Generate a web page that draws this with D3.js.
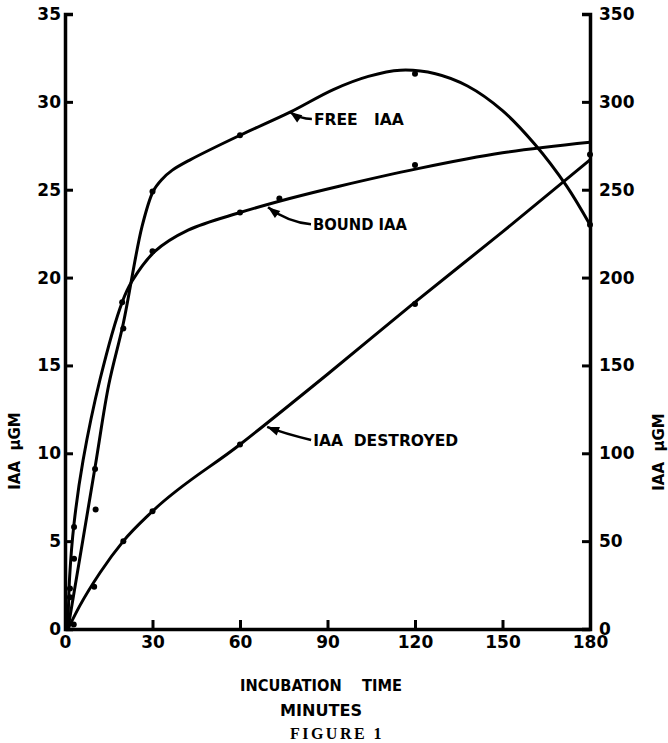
<!DOCTYPE html>
<html>
<head>
<meta charset="utf-8">
<script src="https://cdn.jsdelivr.net/npm/d3@7"></script>
<style>
  body { margin: 0; background: #fff; }
  text { font-family: "DejaVu Sans", sans-serif; font-weight: bold; fill: #000; }
  .axis path, .axis line { stroke: #000; }
  .axis text { font-size: 17px; font-family: "DejaVu Sans", sans-serif; font-weight: bold; }
</style>
</head>
<body>
<div id="chart1"></div>
<script>

// tick labels
var minuteTicks = [0, 30, 60, 90, 120, 150, 180];
var leftTicks = [0, 5, 10, 15, 20, 25, 30, 35];
var rightTicks = [0, 50, 100, 150, 200, 250, 300, 350];

// measured points [minutes, IAA ugm]
var freeObs = [[1.7, 1.8], [3.1, 4.0], [10.3, 9.1], [20, 17.1], [30, 24.9], [60, 28.1], [120, 31.6], [180, 23.0]];
var boundObs = [[1.7, 2.3], [3.1, 5.8], [10.5, 6.8], [19.6, 18.6], [30, 21.5], [60, 23.7], [73.5, 24.5], [120, 26.4]];
// destroyed is read on the right hand scale
var destroyedObs = [[3, 2.5], [10, 24], [20, 50], [30, 67], [60, 105], [120, 185], [180, 270]];

// the hand drawn curves
var freeCurve = [[1, 0], [10.3, 9.2], [15, 13.9], [20, 17.4], [26.4, 22.9], [30.2, 24.9], [33.3, 25.6],
  [36.7, 26.1], [42.9, 26.7], [60, 28.1], [77, 29.4], [92, 30.7], [104, 31.45], [115, 31.8], [127, 31.6],
  [138, 30.9], [150, 29.5], [161, 27.6], [172, 25.2], [180, 23.0]];
var boundCurve = [[1, 0], [1.6, 3.0], [3.1, 6.0], [6.2, 9.6], [12, 14.2], [19.6, 18.6], [23, 19.8],
  [30.9, 21.5], [42.2, 22.7], [60, 23.7], [77, 24.5], [94, 25.2], [121, 26.2], [150, 27.1], [180, 27.7]];
var destroyedCurve = [[1, 0], [5, 13], [12, 32], [20, 50], [30, 67], [60, 105], [90, 145],
  [120, 186], [150, 226], [180, 267]];

var margin = { left: 65, right: 78, top: 14, bottom: 114 };
var width = 668 - margin.left - margin.right;
var height = 743 - margin.top - margin.bottom;

var svg = d3.select("#chart1")
  .append("svg")
    .attr("width", 668)
    .attr("height", 743);

var g = svg.append("g")
  .attr("transform", "translate(" + margin.left + "," + margin.top + ")");

var x = d3.scaleLinear().domain([0, 180]).range([0, width]);
var yL = d3.scaleLinear().domain([0, 35]).range([height, 0]);
var yR = d3.scaleLinear().domain([0, 350]).range([height, 0]);

var xAxis = d3.axisBottom(x).tickValues(minuteTicks).tickSizeInner(-9).tickSizeOuter(0).tickPadding(7);
var leftAxis = d3.axisLeft(yL).tickValues(leftTicks).tickSizeInner(-8).tickSizeOuter(-8).tickPadding(4);
var rightAxis = d3.axisRight(yR).tickValues(rightTicks).tickSizeInner(-8).tickSizeOuter(-8).tickPadding(9);

function styleAxis(sel) {
  sel.select(".domain").attr("stroke-width", 3.5).attr("fill", "none");
  sel.selectAll(".tick line").attr("stroke-width", 3);
  sel.selectAll(".tick text").attr("fill", "#000");
}

g.append("g").attr("class", "axis")
  .attr("transform", "translate(0," + height + ")")
  .call(xAxis).call(styleAxis);

g.append("g").attr("class", "axis")
  .call(leftAxis).call(styleAxis);

g.append("g").attr("class", "axis")
  .attr("transform", "translate(" + width + ",0)")
  .call(rightAxis).call(styleAxis);

// curves
var lineL = d3.line()
  .x(function(d){ return x(d[0]) })
  .y(function(d){ return yL(d[1]) })
  .curve(d3.curveCatmullRom.alpha(0.5));
var lineR = d3.line()
  .x(function(d){ return x(d[0]) })
  .y(function(d){ return yR(d[1]) })
  .curve(d3.curveMonotoneX);

g.append("path").datum(freeCurve).attr("d", lineL)
  .attr("fill", "none").attr("stroke", "#000").attr("stroke-width", 3);
g.append("path").datum(boundCurve).attr("d", lineL)
  .attr("fill", "none").attr("stroke", "#000").attr("stroke-width", 3);
g.append("path").datum(destroyedCurve).attr("d", lineR)
  .attr("fill", "none").attr("stroke", "#000").attr("stroke-width", 3);

// points
g.selectAll(".free").data(freeObs).enter()
  .append("circle").attr("class", "free")
  .attr("cx", function(d){ return x(d[0]) })
  .attr("cy", function(d){ return yL(d[1]) })
  .attr("r", 3);
g.selectAll(".bound").data(boundObs).enter()
  .append("circle").attr("class", "bound")
  .attr("cx", function(d){ return x(d[0]) })
  .attr("cy", function(d){ return yL(d[1]) })
  .attr("r", 3);
g.selectAll(".destr").data(destroyedObs).enter()
  .append("circle").attr("class", "destr")
  .attr("cx", function(d){ return x(d[0]) })
  .attr("cy", function(d){ return yR(d[1]) })
  .attr("r", 3);

// labels with curved arrows, tip sits on the curve
// ctrl / tail are px offsets from the tip
function arrowLabel(tx, ty, ctrl, tail, label, len) {
  var p = d3.path();
  p.moveTo(tx + tail[0], ty + tail[1]);
  p.quadraticCurveTo(tx + ctrl[0], ty + ctrl[1], tx, ty);
  g.append("path").attr("d", p.toString())
    .attr("fill", "none").attr("stroke", "#000").attr("stroke-width", 2.5);
  // head
  var dx = -ctrl[0], dy = -ctrl[1];
  var n = Math.sqrt(dx * dx + dy * dy);
  dx /= n; dy /= n;
  var hx = tx - dx * 12, hy = ty - dy * 12;
  g.append("path")
    .attr("d", "M" + tx + "," + ty +
      "L" + (hx - dy * 4.5) + "," + (hy + dx * 4.5) +
      "L" + (hx + dy * 4.5) + "," + (hy - dx * 4.5) + "Z")
    .attr("fill", "#000");
  g.append("text")
    .attr("x", tx + tail[0] + 2)
    .attr("y", ty + tail[1] + 6)
    .attr("font-size", 16)
    .attr("textLength", len)
    .attr("lengthAdjust", "spacingAndGlyphs")
    .style("white-space", "pre")
    .text(label);
}

arrowLabel(x(77.1), yL(29.42), [10, 7], [22, 7], "FREE   IAA", 90);
arrowLabel(x(69.6), yL(24.0), [20, 15], [43, 17], "BOUND IAA", 94);
arrowLabel(x(69.3), yR(115), [18, 7], [44, 13], "IAA  DESTROYED", 145);

// axis titles
svg.append("text")
  .attr("transform", "translate(20,451) rotate(-90)")
  .attr("text-anchor", "middle")
  .attr("font-size", 15)
  .style("white-space", "pre")
  .text("IAA  µGM");
svg.append("text")
  .attr("transform", "translate(664,452) rotate(-90)")
  .attr("text-anchor", "middle")
  .attr("font-size", 15)
  .style("white-space", "pre")
  .text("IAA  µGM");

svg.append("text")
  .attr("x", 321).attr("y", 691)
  .attr("text-anchor", "middle")
  .attr("font-size", 16)
  .attr("textLength", 162)
  .attr("lengthAdjust", "spacingAndGlyphs")
  .style("white-space", "pre")
  .text("INCUBATION    TIME");
svg.append("text")
  .attr("x", 321).attr("y", 716)
  .attr("text-anchor", "middle")
  .attr("font-size", 16)
  .attr("textLength", 82)
  .attr("lengthAdjust", "spacingAndGlyphs")
  .text("MINUTES");
svg.append("text")
  .attr("x", 337).attr("y", 739)
  .attr("text-anchor", "middle")
  .attr("font-size", 16)
  .attr("letter-spacing", 2.5)
  .style("font-family", "'Liberation Serif', 'DejaVu Serif', serif")
  .text("FIGURE 1");

</script>
</body>
</html>
